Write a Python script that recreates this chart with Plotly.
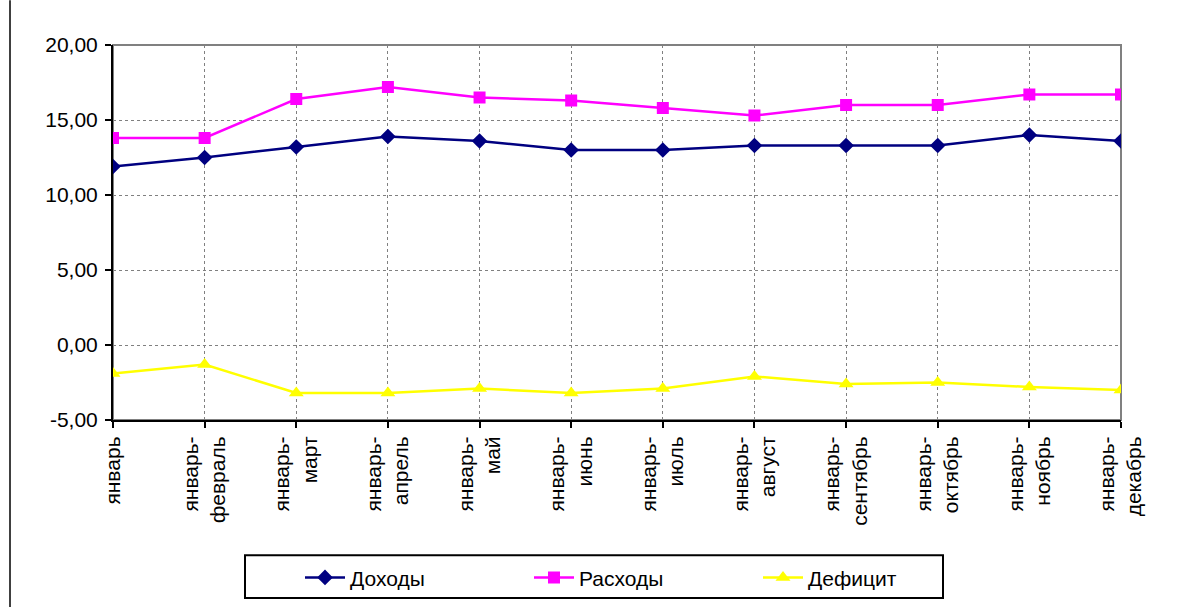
import plotly.graph_objects as go

categories = ["январь", "январь-<br>февраль", "январь-<br>март", "январь-<br>апрель",
              "январь-<br>май", "январь-<br>июнь", "январь-<br>июль", "январь-<br>август",
              "январь-<br>сентябрь", "январь-<br>октябрь", "январь-<br>ноябрь", "январь-<br>декабрь"]
dohody = [11.9, 12.5, 13.2, 13.9, 13.6, 13.0, 13.0, 13.3, 13.3, 13.3, 14.0, 13.6]
rashody = [13.8, 13.8, 16.4, 17.2, 16.5, 16.3, 15.8, 15.3, 16.0, 16.0, 16.7, 16.7]
deficit = [-1.9, -1.3, -3.2, -3.2, -2.9, -3.2, -2.9, -2.1, -2.6, -2.5, -2.8, -3.0]
y_tickvals = [-5, 0, 5, 10, 15, 20]
y_ticktext = ["-5,00", "0,00", "5,00", "10,00", "15,00", "20,00"]

W, H = 1194, 610
L, R, T, B = 113, 1121, 45, 422

fig = go.Figure()
fig.add_trace(go.Scatter(x=categories, y=dohody, name="Доходы", mode="lines+markers",
                         line=dict(color="#000080", width=2.5),
                         marker=dict(symbol="diamond", size=12, color="#000080")))
fig.add_trace(go.Scatter(x=categories, y=rashody, name="Расходы", mode="lines+markers",
                         line=dict(color="#FF00FF", width=2.5),
                         marker=dict(symbol="square", size=12, color="#FF00FF")))
fig.add_trace(go.Scatter(x=categories, y=deficit, name="Дефицит", mode="lines+markers",
                         line=dict(color="#FFFF00", width=2.5),
                         marker=dict(symbol="triangle-up", size=13, color="#FFFF00")))

pw, ph = R - L, B - T

def px_x(p):
    return (p - L) / pw

def px_y(p):
    return (B - p) / ph

# plot area border (gray)
fig.add_shape(type="rect", xref="paper", yref="paper", x0=0, x1=1, y0=0, y1=1,
              line=dict(color="#808080", width=2), layer="below")
# chart outer left border
fig.add_shape(type="line", xref="paper", yref="paper",
              x0=px_x(10), x1=px_x(10), y0=px_y(0), y1=px_y(H),
              line=dict(color="black", width=1.5))
# legend box
fig.add_shape(type="rect", xref="paper", yref="paper",
              x0=px_x(245), x1=px_x(943), y0=px_y(558), y1=px_y(601),
              line=dict(color="black", width=2), fillcolor="rgba(0,0,0,0)")

fig.update_layout(
    width=W, height=H,
    margin=dict(l=L, r=W - R, t=T, b=H - B),
    paper_bgcolor="white", plot_bgcolor="white",
    font=dict(family="Liberation Sans, Arial, sans-serif", size=21, color="black"),
    showlegend=True,
    legend=dict(orientation="h", x=px_x(300), xanchor="left",
                y=px_y(560), yanchor="top",
                borderwidth=0, bgcolor="rgba(0,0,0,0)",
                font=dict(size=21), entrywidth=174, itemwidth=40),
    xaxis=dict(type="category", range=[0, 11], showgrid=True, gridcolor="#808080",
               griddash="dot", gridwidth=1, showline=True, linecolor="black", linewidth=2,
               ticks="outside", ticklen=6, tickcolor="black", tickwidth=1.5,
               tickangle=-90, tickfont=dict(size=21), zeroline=False),
    yaxis=dict(range=[-5, 20], tickvals=y_tickvals, ticktext=y_ticktext,
               showgrid=True, gridcolor="#808080", griddash="dot", gridwidth=1,
               showline=True, linecolor="black", linewidth=2,
               ticks="outside", ticklen=6, tickcolor="black", tickwidth=1.5,
               ticklabelstandoff=3,
               tickfont=dict(size=21), zeroline=False),
)

fig.write_html("out.html")
